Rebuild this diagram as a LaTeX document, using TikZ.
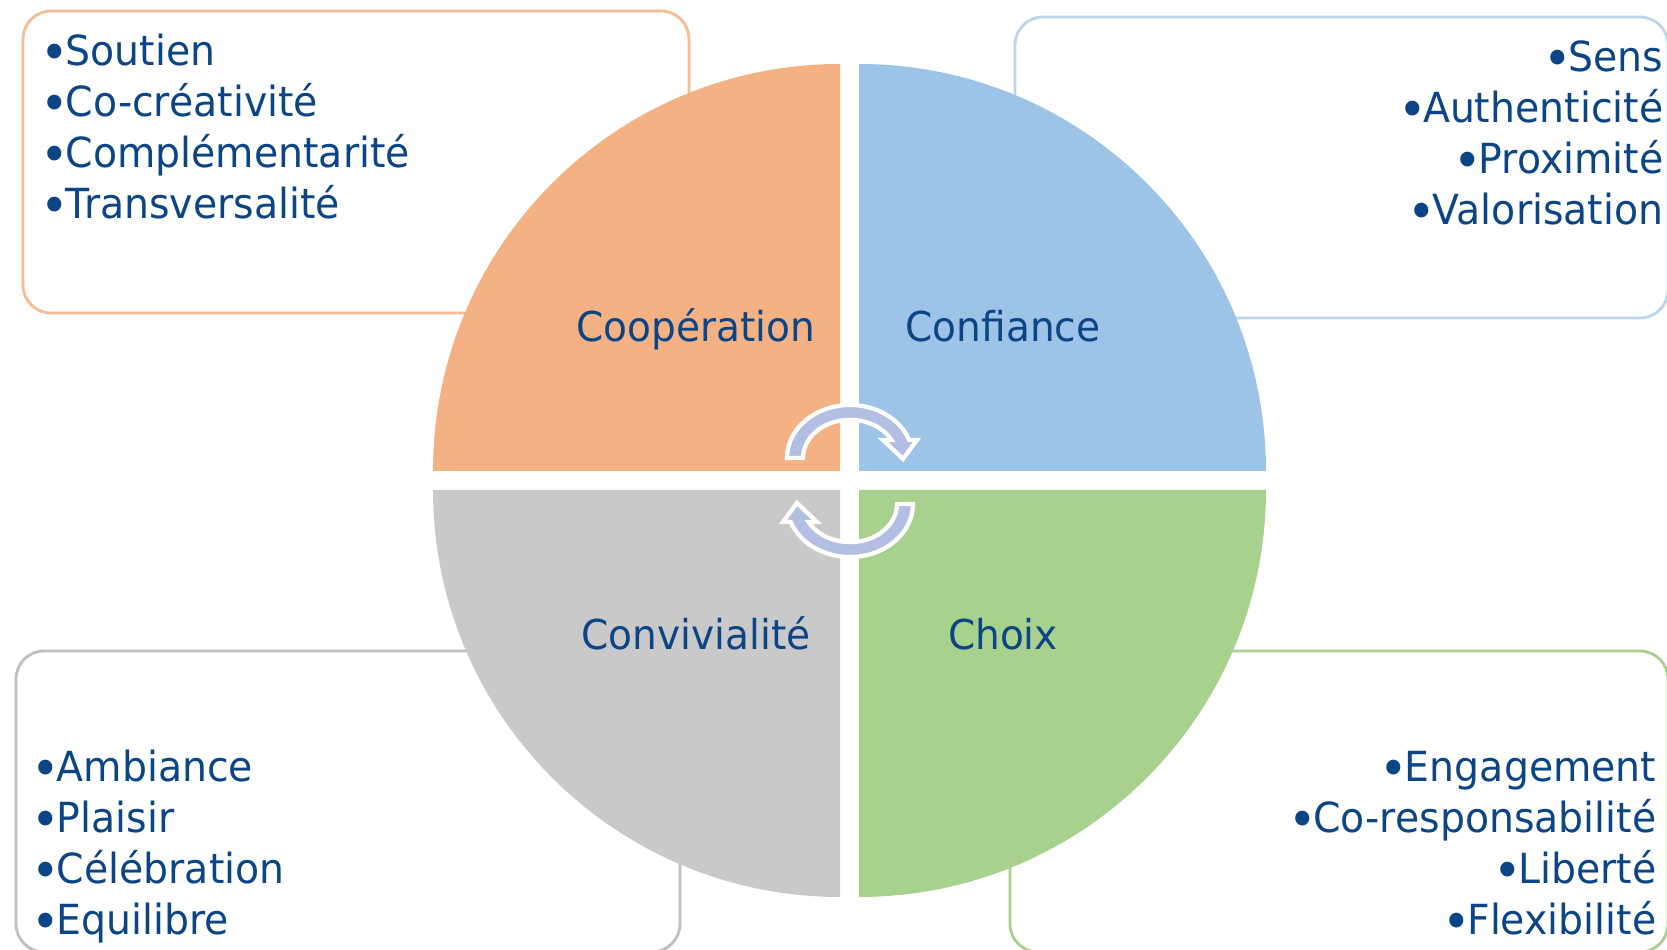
\documentclass[tikz,border=0pt]{standalone}
\usepackage{fontspec}
\setmainfont{DejaVu Sans}[FakeStretch=0.95]
\definecolor{ink}{RGB}{12,69,133}
\definecolor{coop}{RGB}{243,177,132}
\definecolor{conf}{RGB}{157,195,230}
\definecolor{conv}{RGB}{201,201,201}
\definecolor{choix}{RGB}{169,209,142}
\definecolor{turn}{RGB}{178,190,226}
\newcommand{\blt}{\raisebox{-1.4pt}{\fontsize{14.5}{14}\selectfont•}\kern-1pt}
\tikzset{
  panel/.style={rounded corners=2.8mm, line width=0.8pt, fill=white},
  item/.style={font=\fontsize{11.8}{14}\selectfont, text=ink, inner sep=0pt},
  lbl/.style={font=\fontsize{11.7}{14}\selectfont, text=ink, inner sep=0pt, anchor=base},
  turnarrow/.style={fill=turn, draw=white, line width=1.2pt}
}

\begin{document}
\begin{tikzpicture}
  \useasboundingbox (0,0) rectangle (16.67,9.50);
  \coordinate (mid) at (8.50,4.69);

  % panels behind the wheel
  \draw[panel, draw=coop!85!white] (0.23,6.37) rectangle (6.89,9.39);
  \draw[panel, draw=conf!70!white] (10.15,6.32) rectangle (16.68,9.33);
  \draw[panel, draw=conv!95!black] (0.16,-0.02) rectangle (6.80,2.99);
  \draw[panel, draw=choix] (10.10,-0.02) rectangle (16.68,2.99);

  % the four quarters
  \fill[coop] (8.40,4.79) -- ++(-4.07,0) arc[start angle=180, end angle=90, radius=4.07] -- cycle;
  \fill[conf] (8.59,4.79) -- ++(0,4.07) arc[start angle=90, end angle=0, radius=4.07] -- cycle;
  \fill[conv] (8.40,4.60) -- ++(0,-4.07) arc[start angle=270, end angle=180, radius=4.07] -- cycle;
  \fill[choix] (8.59,4.60) -- ++(4.07,0) arc[start angle=0, end angle=-90, radius=4.07] -- cycle;

  \node[lbl] (coopLbl) at (6.96,6.08) {Coopération};
  \node[lbl] (confLbl) at (10.03,6.08) {Confiance};
  \node[lbl] (convLbl) at (6.96,3.00) {Convivialité};
  \node[lbl] (choixLbl) at (10.03,3.00) {Choix};

  % turning arrows in the middle
  \foreach \a in {0,180}
    \path[turnarrow, rotate around={\a:(mid)}]
      (7.87,4.92) arc[start angle=180, end angle=20, x radius=.63, y radius=.53]
      -- (9.17,5.10) -- (9.03,4.91) -- (8.83,5.10) -- (8.915,5.10)
      arc[start angle=28, end angle=180, x radius=.47, y radius=.38] -- cycle;

  % lists
  \foreach \w [count=\i] in {Soutien, Co-créativité, Complémentarité, Transversalité}
    \node[item, anchor=base west] (coop\i) at (0.40,9.35-0.51*\i) {\blt\w};
  \foreach \w [count=\i] in {Sens, Authenticité, Proximité, Valorisation}
    \node[item, anchor=base east] (conf\i) at (16.64,9.29-0.51*\i) {\blt\w};
  \foreach \w [count=\i] in {Ambiance, Plaisir, Célébration, Equilibre}
    \node[item, anchor=base west] (conv\i) at (0.31,2.19-0.51*\i) {\blt\w};
  \foreach \w [count=\i] in {Engagement, Co-responsabilité, Liberté, Flexibilité}
    \node[item, anchor=base east] (choix\i) at (16.57,2.19-0.51*\i) {\blt\w};
\end{tikzpicture}
\end{document}
